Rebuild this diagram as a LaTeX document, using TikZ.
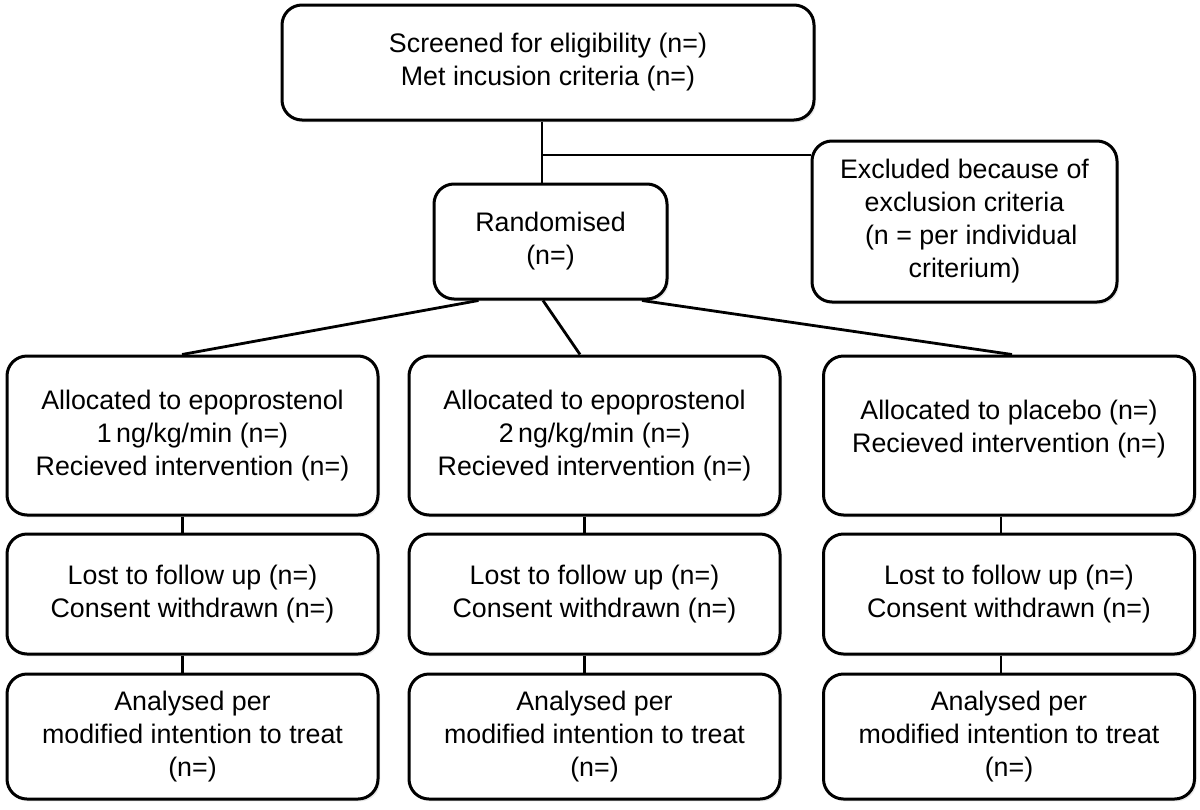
\documentclass[tikz,border=0pt]{standalone}
\usepackage{fontspec}
\setmainfont{Liberation Sans}
\usetikzlibrary{shadows}
\begin{document}
\begin{tikzpicture}[x=0.5pt,y=-0.5pt,line join=round]
  \tikzstyle{box}=[draw,rectangle,rounded corners=10pt,line width=1.5pt,fill=white,
    drop shadow={opacity=0.18,shadow xshift=1pt,shadow yshift=-1.2pt},
    align=center,inner sep=0pt,font=\fontsize{13.4}{16.5}\selectfont]
  \tikzstyle{arm}=[box,minimum width=185.5pt]
  \tikzstyle{link}=[line width=1.4pt]
  \useasboundingbox (0,0) rectangle (1200,809);
  \node[box,minimum width=266pt,minimum height=57.5pt] (S) at (548,62.5)
    {Screened for eligibility (n=)\\Met incusion criteria (n=)};
  \node[box,minimum width=116.5pt,minimum height=57.5pt] (R) at (550.5,241.5)
    {Randomised\\(n=)};
  \node[box,minimum width=152.5pt,minimum height=80.5pt] (X) at (964.5,221.5)
    {Excluded because of\\exclusion criteria\\\hspace*{0.5em}(n = per individual\\criterium)};
  \node[arm,minimum height=79.5pt] (A_1) at (192.5,435.5)
    {Allocated to epoprostenol\\1\,ng/kg/min (n=)\\Recieved intervention (n=)};
  \node[arm,minimum height=79.5pt] (B_1) at (594.5,435.5)
    {Allocated to epoprostenol\\2\,ng/kg/min (n=)\\Recieved intervention (n=)};
  \node[arm,minimum height=79.5pt] (C_1) at (1009,435.5)
    {Allocated to placebo (n=)\\Recieved intervention (n=)\\[-7pt]};
  \node[arm,minimum height=60pt] (A_2) at (192.5,594) {Lost to follow up (n=)\\Consent withdrawn (n=)};
  \node[arm,minimum height=60pt] (B_2) at (594.5,594) {Lost to follow up (n=)\\Consent withdrawn (n=)};
  \node[arm,minimum height=60pt] (C_2) at (1009,594) {Lost to follow up (n=)\\Consent withdrawn (n=)};
  \node[arm,minimum height=62.5pt] (A_3) at (192.5,736.5) {Analysed per\\modified intention to treat\\(n=)};
  \node[arm,minimum height=62.5pt] (B_3) at (594.5,736.5) {Analysed per\\modified intention to treat\\(n=)};
  \node[arm,minimum height=62.5pt] (C_3) at (1009,736.5) {Analysed per\\modified intention to treat\\(n=)};
  \coordinate (J) at (542,155);
  \draw[link] ([xshift=-3pt]S.south) -- ([xshift=-4.25pt]R.north);
  \draw[link] (J) -- (J -| X.west);
  \draw[link] ([xshift=-36pt]R.south) -- ([xshift=-5.25pt]A_1.north);
  \draw[link] ([xshift=-3.75pt]R.south) -- ([xshift=-7.25pt]B_1.north);
  \draw[link] ([xshift=45.75pt]R.south) -- ([xshift=1.5pt]C_1.north);
  \draw[link] ([xshift=-5pt]A_1.south) -- ([xshift=-5pt]A_2.north);
  \draw[link] ([xshift=-5pt]B_1.south) -- ([xshift=-5pt]B_2.north);
  \draw[link] ([xshift=-4pt]C_1.south) -- ([xshift=-4pt]C_2.north);
  \draw[link] ([xshift=-5pt]A_2.south) -- ([xshift=-5pt]A_3.north);
  \draw[link] ([xshift=-5pt]B_2.south) -- ([xshift=-5pt]B_3.north);
  \draw[link] ([xshift=-4pt]C_2.south) -- ([xshift=-4pt]C_3.north);
\end{tikzpicture}
\end{document}
